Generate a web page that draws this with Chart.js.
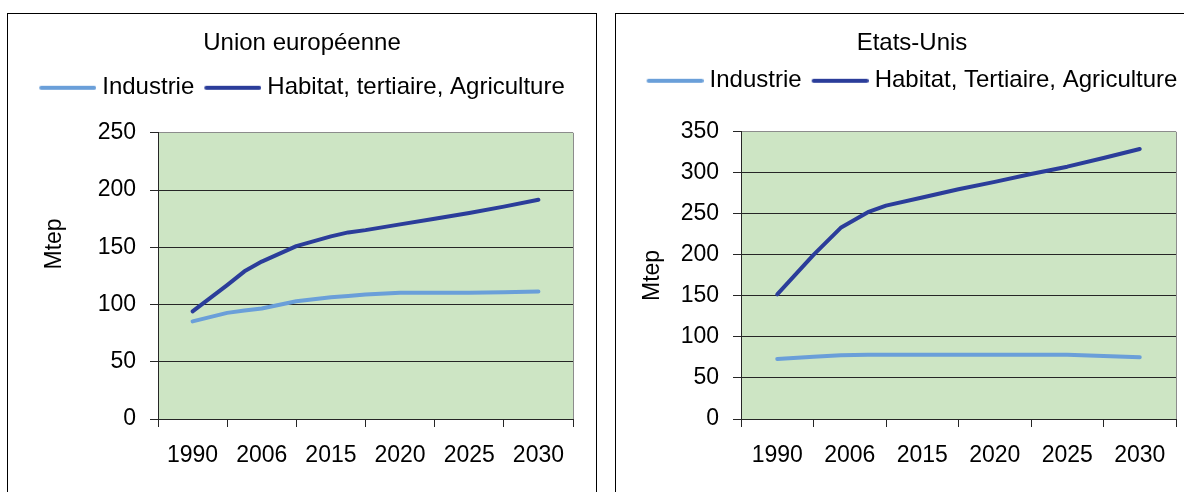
<!DOCTYPE html>
<html>
<head>
<meta charset="utf-8">
<script src="https://cdn.jsdelivr.net/npm/chart.js@4.4.0/dist/chart.umd.min.js"></script>
<style>
  html, body { margin: 0; padding: 0; background: #fff; overflow: hidden; }
  body { width: 1184px; height: 492px; position: relative; }
  .panel { position: absolute; top: 13px; border: 1px solid #000; background: #fff; }
  #euPanel { left: 7px; width: 588px; height: 520px; }
  #usPanel { left: 615px; width: 592px; height: 520px; }
  canvas { display: block; }
</style>
</head>
<body>
<div class="panel" id="euPanel"><canvas id="eu" width="588" height="478"></canvas></div>
<div class="panel" id="usPanel"><canvas id="us" width="592" height="478"></canvas></div>
<script>
const years = ['1990', '2006', '2015', '2020', '2025', '2030'];

// positions on the category axis: 0.5 = 1990 ... 5.5 = 2030
const euPos = [0.5, 1.0, 1.25, 1.5, 2.0, 2.5, 2.75, 3.0, 3.5, 4.0, 4.5, 5.0, 5.5];
const euIndustrie = [85.3, 92.7, 94.7, 96.5, 102.8, 106.3, 107.5, 108.7, 110.2, 110.2, 110.2, 110.7, 111.3];
const euHabitat = [94, 117, 129, 137.5, 151, 159.5, 163, 165, 170, 175, 180, 185.5, 191.5];

const usPos = [0.5, 1.0, 1.375, 1.75, 2.0, 2.5, 3.0, 3.5, 4.0, 4.5, 5.0, 5.5];
const usIndustrie = [73.2, 75.8, 77.6, 78.4, 78.4, 78.4, 78.4, 78.4, 78.4, 78.4, 76.8, 75.2];
const usHabitat = [152, 200, 233, 252, 260, 270, 280, 289, 298.5, 307.5, 318, 329];

const lightBlue = '#6a9fd9';
const darkBlue = '#2b3d9a';
const plotGreen = '#cde5c4';
const axisDark = '#262626';
const borderGrey = '#8c8c8c';

Chart.defaults.font.family = '"Liberation Sans", Arial, sans-serif';
Chart.defaults.color = '#000';

// green plot area like the Excel original
const plotBg = {
  id: 'plotBg',
  beforeDraw(chart) {
    const { ctx, chartArea: a } = chart;
    ctx.save();
    ctx.fillStyle = plotGreen;
    ctx.fillRect(a.left, a.top, a.width, a.height);
    ctx.restore();
  }
};

// legend sample: a 57px line sitting close to its text (Excel style)
function legendLine(color) {
  const c = document.createElement('canvas');
  c.width = 63;
  c.height = 6;
  const g = c.getContext('2d');
  g.strokeStyle = color;
  g.lineWidth = 4;
  g.lineCap = 'round';
  g.beginPath();
  g.moveTo(8, 3);
  g.lineTo(61, 3);
  g.stroke();
  return c;
}

function points(pos, vals) {
  return pos.map((x, i) => ({ x: x, y: vals[i] }));
}

function makeChart(id, opt) {
  const lineStyle = { borderWidth: 4, pointRadius: 0, tension: 0, borderCapStyle: 'round', borderJoinStyle: 'round', fill: false };
  return new Chart(document.getElementById(id), {
    type: 'line',
    data: {
      datasets: [
        Object.assign({ label: 'Industrie', data: points(opt.pos, opt.industrie), borderColor: lightBlue, backgroundColor: lightBlue, pointStyle: legendLine(lightBlue) }, lineStyle),
        Object.assign({ label: opt.habitatLabel, data: points(opt.pos, opt.habitat), borderColor: darkBlue, backgroundColor: darkBlue, pointStyle: legendLine(darkBlue) }, lineStyle)
      ]
    },
    options: {
      responsive: false,
      animation: false,
      events: [],
      layout: { padding: 0 },
      plugins: {
        title: {
          display: true,
          text: opt.title,
          font: { size: 24, weight: 'normal' },
          padding: { top: 15, bottom: opt.titleBottom }
        },
        subtitle: {
          // empty spacer between legend and plot
          display: true,
          text: '',
          weight: 500,
          font: { size: 10 },
          padding: { top: 0, bottom: opt.spacer }
        },
        legend: {
          display: true,
          labels: {
            usePointStyle: true,
            pointStyleWidth: 51,
            boxHeight: 24,
            padding: 10,
            font: { size: 24 }
          }
        },
        tooltip: { enabled: false }
      },
      scales: {
        x: {
          type: 'linear',
          min: 0,
          max: 6,
          afterBuildTicks: (s) => {
            const t = [];
            for (let v = 0; v <= 12; v++) t.push({ value: v / 2 });
            s.ticks = t;
          },
          afterFit: (s) => { s.height = 73; },
          ticks: {
            autoSkip: false,
            maxRotation: 0,
            padding: 15,
            font: { size: 23 },
            callback: (v) => (v % 1 === 0.5 ? years[Math.floor(v)] : '')
          },
          grid: {
            drawOnChartArea: true,
            tickLength: 8,
            color: (c) => (c.tick && c.tick.value === 6 ? borderGrey : 'rgba(0,0,0,0)'),
            tickColor: (c) => (c.tick && Number.isInteger(c.tick.value) ? axisDark : 'rgba(0,0,0,0)')
          },
          border: { display: true, color: axisDark, width: 1 }
        },
        y: {
          min: 0,
          max: opt.yMax,
          afterFit: (s) => { s.width = opt.yWidth; },
          ticks: { stepSize: 50, padding: 14, font: { size: 23 } },
          grid: {
            tickLength: 8,
            color: (c) => (c.tick && c.tick.value === opt.yMax ? borderGrey : axisDark),
            tickColor: axisDark
          },
          border: { display: true, color: axisDark, width: 1 },
          title: {
            display: true,
            text: opt.yTitle,
            font: { size: 23 },
            padding: { top: opt.yTitlePad, bottom: 0 }
          }
        },
        // empty right-hand axis, only keeps the margin right of the plot
        yRight: {
          position: 'right',
          afterFit: (s) => { s.width = opt.rightGap; },
          ticks: { display: false },
          grid: { display: false },
          border: { display: false }
        }
      }
    },
    plugins: [plotBg]
  });
}

makeChart('eu', {
  title: 'Union européenne',
  habitatLabel: 'Habitat, tertiaire, Agriculture',
  pos: euPos, industrie: euIndustrie, habitat: euHabitat,
  yMax: 250, yWidth: 150, yTitlePad: 33,
  yTitle: '          Mtep',
  rightGap: 23, titleBottom: 8, spacer: 11
});

makeChart('us', {
  title: 'Etats-Unis',
  habitatLabel: 'Habitat, Tertiaire, Agriculture',
  pos: usPos, industrie: usIndustrie, habitat: usHabitat,
  yMax: 350, yWidth: 125, yTitlePad: 23,
  yTitle: 'Mtep',
  rightGap: 32, titleBottom: 1, spacer: 17
});
</script>
</body>
</html>
